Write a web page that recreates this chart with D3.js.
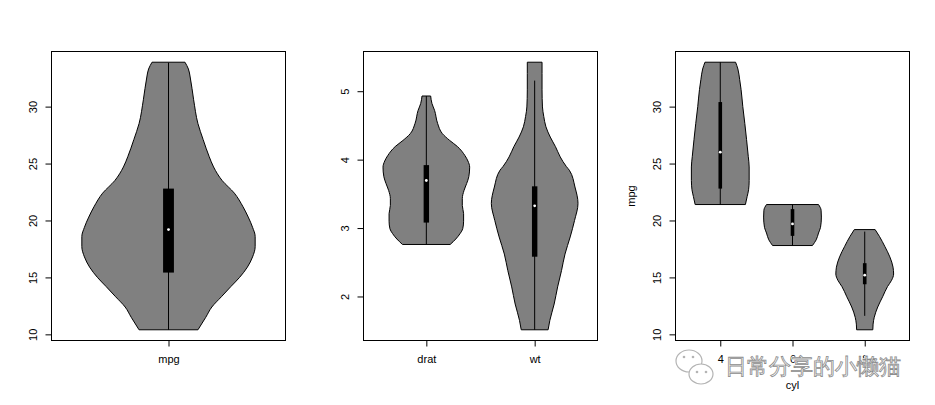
<!DOCTYPE html>
<html>
<head>
<meta charset="utf-8">
<script src="https://cdn.jsdelivr.net/npm/d3@7"></script>
<style>
  body { margin: 0; background: #fff; }
  text { font-family: "Liberation Sans", Arial, sans-serif; }
</style>
</head>
<body>
<script>
// violin outlines: [value, relative half width]
var mpgProfile = [[10.4,0.34],[11.5,0.43],[12.4,0.50],[13.3,0.61],[14.2,0.72],[15.0,0.82],[15.9,0.91],[16.8,0.97],[17.7,1.0],[18.6,1.0],[19.4,0.97],[20.3,0.92],[21.2,0.86],[22.4,0.76],[23.5,0.62],[24.7,0.52],[25.6,0.47],[27.1,0.40],[28.5,0.34],[30.6,0.29],[32.6,0.25],[33.3,0.23],[33.9,0.19]];
var dratProfile = [[2.76,0.55],[2.84,0.68],[2.92,0.78],[2.99,0.84],[3.1,0.86],[3.21,0.86],[3.33,0.83],[3.43,0.83],[3.55,0.87],[3.65,0.93],[3.75,0.98],[3.89,1.0],[3.98,0.96],[4.06,0.89],[4.19,0.72],[4.28,0.54],[4.38,0.37],[4.53,0.26],[4.72,0.19],[4.82,0.13],[4.93,0.10]];
var wtProfile = [[1.513,0.31],[1.65,0.35],[1.89,0.45],[2.14,0.53],[2.38,0.62],[2.62,0.70],[2.87,0.82],[3.11,0.92],[3.36,1.0],[3.60,0.93],[3.845,0.80],[3.9,0.73],[4.04,0.59],[4.19,0.48],[4.33,0.36],[4.48,0.26],[4.63,0.21],[4.77,0.18],[5.02,0.17],[5.26,0.17],[5.424,0.17]];
var cyl4Profile = [[21.4,0.87],[22.1,0.93],[22.7,0.98],[23.5,1.0],[24.7,1.0],[25.6,0.97],[27.1,0.91],[28.5,0.85],[30.0,0.78],[31.5,0.72],[32.4,0.67],[33.3,0.61],[33.9,0.53]];
var cyl6Profile = [[17.8,0.69],[18.3,0.82],[18.9,0.90],[19.4,0.97],[20.3,1.0],[20.9,0.99],[21.4,0.90]];
var cyl8Profile = [[10.4,0.28],[10.9,0.29],[11.5,0.33],[12.4,0.45],[13.3,0.62],[14.2,0.79],[14.75,0.93],[15.3,1.0],[15.9,0.98],[16.8,0.87],[17.7,0.70],[18.6,0.51],[19.2,0.36]];

// box stats: [lower whisker, q1, median, q3, upper whisker]
var mpgStats = [10.4, 15.425, 19.2, 22.8, 33.86];
var dratStats = [2.76, 3.08, 3.695, 3.92, 4.93];
var wtStats = [1.513, 2.58125, 3.325, 3.61, 5.155];
var cyl4Stats = [21.4, 22.8, 26.0, 30.4, 33.9];
var cyl6Stats = [17.8, 18.65, 19.7, 21.0, 21.4];
var cyl8Stats = [11.625, 14.4, 15.2, 16.25, 19.025];

var labels1 = ["mpg"], labels2 = ["drat", "wt"], labels3 = ["4", "6", "8"];
var yTicks1 = [10, 15, 20, 25, 30], yTicks2 = [2, 3, 4, 5], yTicks3 = [10, 15, 20, 25, 30];

var width = 234, height = 289;

var svg = d3.select('body').append('svg')
  .attr('width', 935)
  .attr('height', 405);

function drawPanel(left, labels, profiles, stats, yTicks, xTitle, yTitle) {
  var g = svg.append('g').attr('transform', 'translate(' + left + ',51.5)');

  var lo = d3.min(profiles, function(p) { return d3.min(p, function(d) { return d[0]; }); });
  var hi = d3.max(profiles, function(p) { return d3.max(p, function(d) { return d[0]; }); });
  var ext = (hi - lo) * 0.04;
  var y = d3.scaleLinear().domain([lo - ext, hi + ext]).range([height, 0]);

  var n = labels.length;
  var x = d3.scaleLinear().domain([0.5 - n * 0.04, n + 0.5 + n * 0.04]).range([0, width]);

  profiles.forEach(function(p, i) {
    var at = i + 1;
    var area = d3.area()
      .curve(d3.curveMonotoneY)
      .y(function(d) { return y(d[0]); })
      .x0(function(d) { return x(at - 0.4 * d[1]); })
      .x1(function(d) { return x(at + 0.4 * d[1]); });
    g.append('path')
      .attr('d', area(p))
      .attr('fill', '#808080')
      .attr('stroke', '#000')
      .attr('stroke-width', 1);

    var s = stats[i];
    g.append('line')
      .attr('x1', x(at)).attr('x2', x(at))
      .attr('y1', y(s[0])).attr('y2', y(s[4]))
      .attr('stroke', '#000');
    g.append('rect')
      .attr('x', x(at - 0.025)).attr('width', x(at + 0.025) - x(at - 0.025))
      .attr('y', y(s[3])).attr('height', y(s[1]) - y(s[3]))
      .attr('fill', '#000');
    g.append('circle')
      .attr('cx', x(at)).attr('cy', y(s[2]))
      .attr('r', 1.4)
      .attr('fill', '#fff');
  });

  // axes
  var yAxis = g.append('g')
    .call(d3.axisLeft(y).tickValues(yTicks).tickSize(6).tickSizeOuter(0).tickFormat(d3.format('d')));
  yAxis.select('.domain').remove();
  yAxis.selectAll('text')
    .attr('x', null).attr('dy', null)
    .attr('transform', 'translate(-15,0) rotate(-90)')
    .attr('text-anchor', 'middle')
    .attr('font-size', 11)
    .attr('font-family', '"Liberation Sans", Arial, sans-serif')
    .attr('fill', '#000');

  var xAxis = g.append('g')
    .attr('transform', 'translate(0,' + height + ')')
    .call(d3.axisBottom(x).tickValues(d3.range(1, n + 1)).tickSize(6).tickFormat(function(d) { return labels[d - 1]; }));
  xAxis.select('.domain').remove();
  xAxis.selectAll('text')
    .attr('y', 22).attr('dy', null)
    .attr('font-size', 11)
    .attr('font-family', '"Liberation Sans", Arial, sans-serif')
    .attr('fill', '#000');

  g.append('rect')
    .attr('width', width).attr('height', height)
    .attr('fill', 'none')
    .attr('stroke', '#000');

  if (xTitle) {
    g.append('text')
      .attr('x', width / 2).attr('y', height + 48)
      .attr('text-anchor', 'middle')
      .attr('font-size', 11)
      .text(xTitle);
  }
  if (yTitle) {
    g.append('text')
      .attr('transform', 'translate(-41,' + height / 2 + ') rotate(-90)')
      .attr('text-anchor', 'middle')
      .attr('font-size', 11)
      .text(yTitle);
  }
}

drawPanel(51.5, labels1, [mpgProfile], [mpgStats], yTicks1);
drawPanel(363.5, labels2, [dratProfile, wtProfile], [dratStats, wtStats], yTicks2);
drawPanel(675.5, labels3, [cyl4Profile, cyl6Profile, cyl8Profile], [cyl4Stats, cyl6Stats, cyl8Stats], yTicks3, "cyl", "mpg");

// watermark
var wm = svg.append('g');
wm.append('ellipse').attr('cx', 689).attr('cy', 361).attr('rx', 13).attr('ry', 11)
  .attr('fill', '#fff').attr('stroke', '#b4b4b4').attr('stroke-width', 1.2);
wm.append('ellipse').attr('cx', 701).attr('cy', 374).attr('rx', 12).attr('ry', 10)
  .attr('fill', '#fff').attr('stroke', '#b4b4b4').attr('stroke-width', 1.2);
[[684, 357], [693, 357], [697, 372], [706, 372]].forEach(function(e) {
  wm.append('circle').attr('cx', e[0]).attr('cy', e[1]).attr('r', 1.3).attr('fill', '#b4b4b4');
});
wm.append('text')
  .attr('x', 725).attr('y', 374)
  .attr('font-family', '"Noto Sans CJK SC", sans-serif')
  .attr('font-size', 22)
  .attr('fill', '#fff')
  .attr('stroke', '#fff')
  .attr('stroke-width', 2)
  .attr('stroke-linejoin', 'round')
  .text('日常分享的小懒猫');
wm.append('text')
  .attr('x', 725).attr('y', 374)
  .attr('font-family', '"Noto Sans CJK SC", sans-serif')
  .attr('font-size', 22)
  .attr('fill', '#fff')
  .attr('stroke', '#8c8c8c')
  .attr('stroke-width', 0.8)
  .text('日常分享的小懒猫');
</script>
</body>
</html>
